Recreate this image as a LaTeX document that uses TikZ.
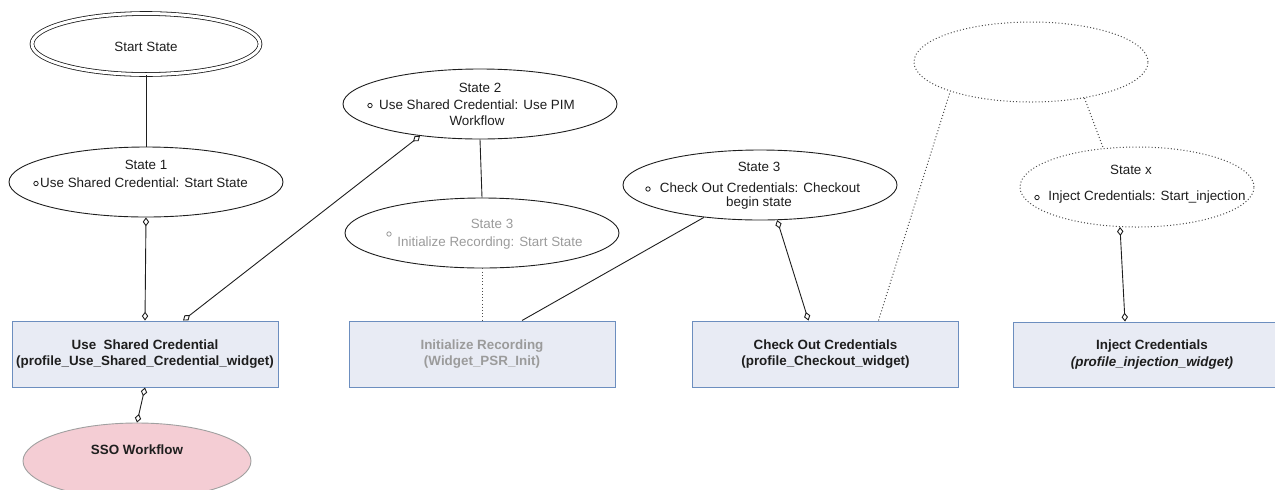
\documentclass[tikz,border=0pt]{standalone}
\usepackage{fontspec}
\setmainfont{Liberation Sans}
\usetikzlibrary{shapes.geometric,arrows.meta}
\definecolor{boxfill}{HTML}{E8EBF4}
\definecolor{boxdraw}{HTML}{6C8EBF}
\definecolor{graytxt}{HTML}{9B9B9B}
\definecolor{pinkfill}{HTML}{F4CDD4}
\definecolor{pinkdraw}{HTML}{A0A0A0}
\definecolor{ink}{HTML}{1E1E1E}
\begin{document}
\begin{tikzpicture}[x=0.5pt,y=-0.5pt,
  every node/.style={font=\fontsize{6.7}{8.3}\selectfont, text=ink},
  stateel/.style={ellipse, draw=ink, line width=0.45pt, inner sep=0pt, minimum width=137pt, minimum height=35pt},
  dotel/.style={ellipse, draw=ink!80, line width=0.5pt, dash pattern=on 0.5pt off 1.1pt, inner sep=0pt, minimum width=117pt, minimum height=40pt},
  widget/.style={rectangle, draw=boxdraw, fill=boxfill, line width=0.5pt, minimum width=133pt, minimum height=33pt, inner sep=0pt, align=center, font=\fontsize{6.7}{8.3}\selectfont\bfseries},
  lbl/.style={inner sep=0pt, align=center},
  conn/.style={draw=ink, line width=0.45pt},
  dotconn/.style={draw=ink!80, line width=0.5pt, dash pattern=on 0.5pt off 1.1pt},
  ends/.style={{Diamond[open,length=4.4pt,width=3.2pt]}-{Diamond[open,length=4.4pt,width=3.2pt]}},
  bul/.style={draw=ink, line width=0.4pt}
]
\useasboundingbox (0,0) rectangle (1275,489);

% ellipses
\node[ellipse, draw=ink, line width=0.4pt, double=white, double distance=1.5pt, inner sep=0pt, minimum width=114pt, minimum height=30.5pt] (start) at (146,44) {};
\node[lbl] (startt) at (146,47) {Start State};

\node[stateel] (s1) at (146,182) {};
\node[lbl] (s1a) at (146,165) {State 1};
\node[lbl] (s1b) at (144,183) {Use Shared Credential: Start State};
\draw[bul] (36,183.5) circle (1.1pt);

\node[stateel] (s2) at (480,104) {};
\node[lbl] (s2a) at (480,88) {State 2};
\node[lbl] (s2b) at (477,105) {Use Shared Credential: Use PIM};
\node[lbl] (s2c) at (477,121) {Workflow};
\draw[bul] (370,105.5) circle (1.1pt);

\node[stateel] (s3g) at (482,233) {};
\node[lbl, text=graytxt] (s3ga) at (492,224) {State 3};
\node[lbl, text=graytxt] (s3gb) at (490,243) {Initialize Recording: Start State};
\draw[bul, draw=graytxt] (389,234) circle (1.1pt);

\node[stateel] (co) at (760,185) {};
\node[lbl] (coa) at (759,167) {State 3};
\node[lbl] (cob) at (760,188) {Check Out Credentials: Checkout};
\node[lbl] (coc) at (759,203) {begin state};
\draw[bul] (648,189) circle (1.1pt);

\node[dotel] (top) at (1031,62) {};

\node[dotel] (sx) at (1137,187) {};
\node[lbl] (sxa) at (1131,170) {State x};
\node[lbl] (sxb) at (1147,197) {Inject Credentials: Start\_injection};
\draw[bul] (1037,197.5) circle (1.1pt);

\node[ellipse, draw=pinkdraw, fill=pinkfill, line width=0.45pt, inner sep=0pt, minimum width=114pt, minimum height=38pt] (sso) at (137,461) {};
\node[lbl, font=\fontsize{6.7}{8.3}\selectfont\bfseries] (ssot) at (137,450) {SSO Workflow};

% widget boxes
\node[widget] (usebox) at (145,354) {Use\ \ Shared Credential\\(profile\_Use\_Shared\_Credential\_widget)};
\node[widget, text=graytxt] (initbox) at (482,354) {Initialize Recording\\(Widget\_PSR\_Init)};
\node[widget] (cobox) at (825.5,354) {Check Out Credentials\\(profile\_Checkout\_widget)};
\node[widget, minimum width=139pt, minimum height=32.5pt] (injbox) at (1152,354.5) {Inject Credentials\\\textit{(profile\_injection\_widget)}};

% connectors
\draw[conn] (start.south) -- (s1.north);
\draw[conn, ends] (s1.south) -- (usebox.north);
\draw[conn, ends] ([xshift=19pt]usebox.north) -- (s2.208);
\draw[conn, ends] (usebox.south) -- (sso.north);
\draw[conn] (s2.south) -- (s3g.north);
\draw[dotconn] (s3g.south) -- (initbox.north);
\draw[conn] ([xshift=20pt]initbox.north) -- (co.210);
\draw[conn, ends] (co.-64) -- ([xshift=-8.5pt]cobox.north);
\draw[dotconn] ([xshift=26.5pt]cobox.north) -- (top.200.8);
\draw[dotconn] (top.-34) -- (sx.131);
\draw[conn, ends] (sx.-113) -- ([xshift=-13.5pt]injbox.north);
\end{tikzpicture}
\end{document}
